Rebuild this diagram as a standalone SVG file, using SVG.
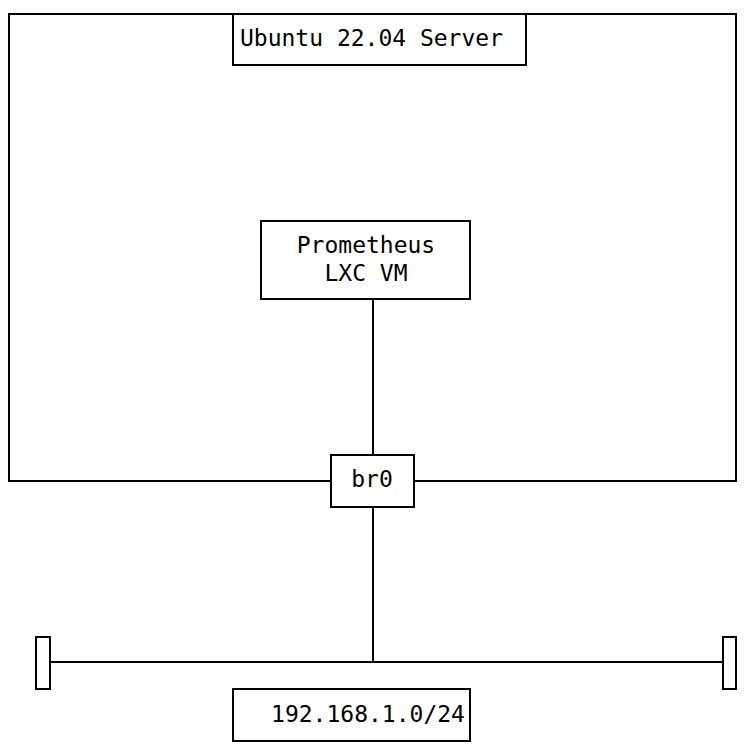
<svg xmlns="http://www.w3.org/2000/svg" width="744" height="756" viewBox="0 0 744 756">
<style>
.b{fill:#fff;stroke:#000;stroke-width:2}
line{stroke:#000;stroke-width:2}
text{font-family:"DejaVu Sans Mono","Liberation Mono",monospace;font-size:23px;fill:#000}
.c{text-anchor:middle}
</style>
<rect width="744" height="756" fill="#fff"/>
<g id="server"><rect class="b" x="9" y="14" width="727" height="467"/></g>
<g id="ubuntu"><rect class="b" x="233" y="14" width="293" height="51"/><text x="240" y="46" textLength="263">Ubuntu 22.04 Server</text></g>
<g id="connectors">
<line x1="373" y1="299" x2="373" y2="455"/>
<line x1="373" y1="507" x2="373" y2="662"/>
<line x1="50" y1="662" x2="723" y2="662"/>
</g>
<g id="prometheus"><rect class="b" x="261" y="221" width="209" height="78"/><text class="c" x="366" y="253">Prometheus</text><text class="c" x="366" y="281">LXC VM</text></g>
<g id="br0"><rect class="b" x="331" y="455" width="83" height="52"/><text class="c" x="372" y="487">br0</text></g>
<g id="left"><rect class="b" x="36" y="637" width="14" height="52"/></g>
<g id="right"><rect class="b" x="723" y="637" width="13" height="52"/></g>
<g id="net"><rect class="b" x="233" y="689" width="237" height="52"/><text class="c" x="368" y="722">192.168.1.0/24</text></g>
</svg>
